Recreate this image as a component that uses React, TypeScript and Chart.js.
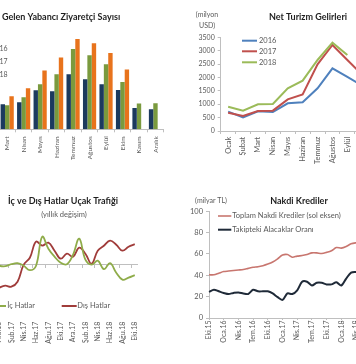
import React, { useEffect, useRef } from 'react';
import { Chart, registerables } from 'chart.js';
Chart.register(...registerables);

const FONT = 'Lato, "Open Sans", sans-serif';
const GRAY = '#595959';
const AXIS = '#bfbfbf';
const TITLE = '#1f1f1f';
const CLEAR = 'rgba(0,0,0,0)';

// ---- Top-left: Gelen Yabancı Ziyaretçi Sayısı (milyon kişi)
const visitorMonths = ['Ocak', 'Şubat', 'Mart', 'Nisan', 'Mayıs', 'Haziran', 'Temmuz', 'Ağustos', 'Eylül', 'Ekim', 'Kasım', 'Aralık'];
const visitors2016 = [1.13, 1.25, 1.56, 1.69, 2.44, 2.38, 3.44, 3.13, 2.81, 2.46, 1.33, 1.25];
const visitors2017 = [1.07, 1.12, 1.5, 2.0, 2.81, 3.44, 5.02, 4.63, 4.06, 2.96, 1.61, 1.63];
const visitors2018 = [1.26, 1.48, 2.06, 2.56, 3.67, 4.48, 5.64, 5.38, 4.77, 3.73, null, null];

// ---- Top-right: Net Turizm Gelirleri (milyon USD)
const tourismMonths = ['Ocak', 'Şubat', 'Mart', 'Nisan', 'Mayıs', 'Haziran', 'Temmuz', 'Ağustos', 'Eylül', 'Ekim', 'Kasım', 'Aralık'];
const tourism2016 = [722, 510, 735, 710, 1034, 1071, 1594, 2341, 2020, 1690, 1000, 900];
const tourism2017 = [685, 560, 747, 760, 1183, 1370, 2491, 3213, 2650, 2100, 1050, 950];
const tourism2018 = [909, 760, 996, 1009, 1594, 1880, 2653, 3300, 2840, null, null, null];
const tourismTicks = [0, 500, 1000, 1500, 2000, 2500, 3000, 3500];

// ---- Bottom-left: İç ve Dış Hatlar Uçak Trafiği (yıllık değişim)
const trafficMonths = ['Eki.16', 'Kas.16', 'Ara.16', 'Oca.17', 'Şub.17', 'Mar.17', 'Nis.17', 'May.17', 'Haz.17', 'Tem.17', 'Ağu.17', 'Eyl.17', 'Eki.17', 'Kas.17', 'Ara.17', 'Oca.18', 'Şub.18', 'Mar.18', 'Nis.18', 'May.18', 'Haz.18', 'Tem.18', 'Ağu.18', 'Eyl.18', 'Eki.18'];
const domesticTraffic = [3, 1, -1, -1.5, 0.5, 1.5, -1, -5.5, -1, 28, 16, 8, 2, 0.5, 10, 26, 5, 0, 4, -4.5, 1.5, -8, -15, -13, -10.5];
const intlTraffic = [-24, -26, -23, -21, -22, -17, 0, 7, 23, 19, 22, 14, 6, 11, 8, 17, 11, 1, 14, 19, 24, 20, 14, 18, 20.5];

// ---- Bottom-right: Nakdi Krediler
const creditMonths = ['Eki.15', 'Kas.15', 'Ara.15', 'Oca.16', 'Şub.16', 'Mar.16', 'Nis.16', 'May.16', 'Haz.16', 'Tem.16', 'Ağu.16', 'Eyl.16', 'Eki.16', 'Kas.16', 'Ara.16', 'Oca.17', 'Şub.17', 'Mar.17', 'Nis.17', 'May.17', 'Haz.17', 'Tem.17', 'Ağu.17', 'Eyl.17', 'Eki.17', 'Kas.17', 'Ara.17', 'Oca.18', 'Şub.18', 'Mar.18', 'Nis.18', 'May.18', 'Haz.18'];
const totalCredits = [40.5, 40.5, 42, 43.5, 44, 44.5, 45, 45.5, 46.5, 47.5, 48, 49, 50.5, 52.5, 55.5, 59, 59.5, 57, 58, 58.5, 59.5, 61, 61, 60.5, 61.5, 63, 66, 65.5, 67, 69.5, 70.5, 71, 73];
const nplRatio = [24.5, 26.5, 25, 23.5, 22.5, 23.5, 24, 23, 22.5, 26.5, 25, 25, 25, 23, 19.5, 17, 23, 22.5, 26, 34, 34, 30.5, 33, 33, 31.5, 31.5, 33.5, 30.5, 37, 42.5, 43, 42, 41];
const creditTicks = [0, 20, 40, 60, 80, 100];

type Item = {
  text: string; x: number; y: number; size: number; bold?: boolean; color?: string;
  align?: CanvasTextAlign; marker?: { color: string; len: number; gap: number; width: number };
};

function annot(id: string, items: Item[]) {
  return {
    id,
    afterDraw(chart: any) {
      const ctx: CanvasRenderingContext2D = chart.ctx;
      ctx.save();
      for (const it of items) {
        ctx.font = `${it.bold ? 'bold ' : ''}${it.size}px ${FONT}`;
        ctx.fillStyle = it.color || GRAY;
        ctx.textAlign = it.align || 'left';
        ctx.textBaseline = 'middle';
        ctx.fillText(it.text, it.x, it.y);
        if (it.marker) {
          const w = ctx.measureText(it.text).width;
          const left = it.align === 'right' ? it.x - w : it.align === 'center' ? it.x - w / 2 : it.x;
          ctx.beginPath();
          ctx.strokeStyle = it.marker.color;
          ctx.lineWidth = it.marker.width;
          ctx.moveTo(left - it.marker.gap - it.marker.len, it.y);
          ctx.lineTo(left - it.marker.gap, it.y);
          ctx.stroke();
        }
      }
      ctx.restore();
    },
  };
}

const base = {
  responsive: false,
  animation: false as const,
  devicePixelRatio: 1,
  events: [] as any[],
};
const noPlugins = { legend: { display: false }, tooltip: { enabled: false }, title: { display: false } };

function ChartBox({ left, top, width, height, make }: { left: number; top: number; width: number; height: number; make: () => any }) {
  const ref = useRef<HTMLCanvasElement>(null);
  useEffect(() => {
    const chart = new Chart(ref.current as HTMLCanvasElement, make());
    return () => chart.destroy();
  }, []);
  return (
    <div style={{ position: 'absolute', left, top, width, height }}>
      <canvas ref={ref} width={width} height={height} style={{ display: 'block', width, height }} />
    </div>
  );
}

const NAVY = '#1c3a5e';
const OLIVE = '#7a9a3e';
const ORANGE = '#e8731c';

function makeVisitors() {
  const bar = (label: string, data: (number | null)[], color: string) => ({
    label, data, backgroundColor: color, borderWidth: 0, categoryPercentage: 0.8, barPercentage: 1,
  });
  return {
    type: 'bar',
    data: {
      labels: visitorMonths,
      datasets: [bar('2016', visitors2016, NAVY), bar('2017', visitors2017, OLIVE), bar('2018', visitors2018, ORANGE)],
    },
    options: {
      ...base,
      layout: { padding: { left: 6, right: 6.3, top: 33.3, bottom: 0 } },
      plugins: noPlugins,
      scales: {
        x: {
          offset: true,
          grid: { offset: true, drawOnChartArea: false, drawTicks: true, tickLength: 3, color: AXIS },
          border: { color: AXIS },
          ticks: { autoSkip: false, minRotation: 90, maxRotation: 90, padding: 4, color: GRAY, font: { family: FONT, size: 6.5 } },
          afterFit: (s: any) => { s.height = 52.7; },
        },
        y: { display: false, min: 0, max: 6 },
      },
    },
    plugins: [
      annot('tl', [
        { text: 'Gelen Yabancı Ziyaretçi Sayısı', x: 42, y: 17, size: 9, bold: true, color: TITLE },
        { text: '2016', x: 47.5, y: 49, size: 7, align: 'right', marker: { color: NAVY, len: 15, gap: 2, width: 2 } },
        { text: '2017', x: 47.5, y: 62, size: 7, align: 'right', marker: { color: OLIVE, len: 15, gap: 2, width: 2 } },
        { text: '2018', x: 47.5, y: 75, size: 7, align: 'right', marker: { color: ORANGE, len: 15, gap: 2, width: 2 } },
      ]),
    ],
  };
}

const BLUE = '#4f81bd';
const RED = '#c0504d';
const GREEN = '#9bbb59';

function makeTourism() {
  const line = (label: string, data: (number | null)[], color: string, order: number) => ({
    label, data, borderColor: color, backgroundColor: color, borderWidth: 2, pointRadius: 0, tension: 0, order,
  });
  return {
    type: 'line',
    data: {
      labels: tourismMonths,
      datasets: [line('2016', tourism2016, BLUE, 2), line('2017', tourism2017, RED, 1), line('2018', tourism2018, GREEN, 0)],
    },
    options: {
      ...base,
      layout: { padding: { left: 0, right: 8.5, top: 37.3, bottom: 0 } },
      plugins: noPlugins,
      scales: {
        x: {
          offset: true,
          grid: { offset: true, drawOnChartArea: false, tickLength: 3, color: AXIS },
          border: { color: AXIS },
          ticks: { autoSkip: false, minRotation: 90, maxRotation: 90, padding: 2.7, color: GRAY, font: { family: FONT, size: 7.5 } },
          afterFit: (s: any) => { s.height = 51; },
        },
        y: {
          min: 0, max: 3500,
          afterBuildTicks: (s: any) => { s.ticks = tourismTicks.map((v) => ({ value: v })); },
          grid: { drawOnChartArea: false, tickLength: 3, color: AXIS },
          border: { color: AXIS },
          ticks: { padding: 3, color: GRAY, font: { family: FONT, size: 7 }, callback: (v: any) => String(v) },
          afterFit: (s: any) => { s.width = 42.7; },
        },
      },
    },
    plugins: [
      annot('tr', [
        { text: 'Net Turizm Gelirleri', x: 130, y: 17, size: 9, bold: true, color: TITLE, align: 'center' },
        { text: '(milyon', x: 29, y: 15, size: 7, align: 'center' },
        { text: 'USD)', x: 29, y: 26, size: 7, align: 'center' },
        { text: '2016', x: 81, y: 40.7, size: 7.5, marker: { color: BLUE, len: 15, gap: 2, width: 2 } },
        { text: '2017', x: 81, y: 51.3, size: 7.5, marker: { color: RED, len: 15, gap: 2, width: 2 } },
        { text: '2018', x: 81, y: 62.3, size: 7.5, marker: { color: GREEN, len: 15, gap: 2, width: 2 } },
      ]),
    ],
  };
}

const DOM = '#8fac4a';
const INTL = '#a03c3a';

function makeTraffic() {
  const line = (label: string, data: number[], color: string) => ({
    label, data, borderColor: color, backgroundColor: color, borderWidth: 1.8, pointRadius: 0, tension: 0.4, xAxisID: 'x', yAxisID: 'y',
  });
  return {
    type: 'line',
    data: {
      labels: trafficMonths,
      datasets: [line('İç Hatlar', domesticTraffic, DOM), line('Dış Hatlar', intlTraffic, INTL)],
    },
    options: {
      ...base,
      layout: { padding: { left: 2.9, right: 3.3, top: 42.7, bottom: 0 } },
      plugins: noPlugins,
      scales: {
        x: {
          type: 'category',
          position: { y: 0 },
          offset: true,
          grid: {
            offset: true, drawOnChartArea: false, tickLength: 3,
            color: (c: any) => (c.index % 2 === 0 ? AXIS : CLEAR),
            tickColor: (c: any) => (c.index % 2 === 0 ? AXIS : CLEAR),
          },
          border: { color: AXIS },
          ticks: { display: false, autoSkip: false },
        },
        x2: {
          type: 'category',
          axis: 'x',
          position: 'bottom',
          offset: true,
          grid: { display: false, drawTicks: false },
          border: { display: false },
          ticks: {
            autoSkip: false, minRotation: 90, maxRotation: 90, padding: 17, color: GRAY, font: { family: FONT, size: 7 },
            callback: (_v: any, i: number) => (i % 2 === 0 ? trafficMonths[i] : ''),
          },
          afterFit: (s: any) => { s.height = 59.3; },
        },
        y: { display: false, min: -40, max: 40 },
      },
    },
    plugins: [
      annot('bl', [
        { text: 'İç ve Dış Hatlar Uçak Trafiği', x: 93, y: 19, size: 9, bold: true, color: TITLE, align: 'center' },
        { text: '(yıllık değişim)', x: 94, y: 32.3, size: 7.5, align: 'center' },
        { text: 'İç Hatlar', x: 37.3, y: 124, size: 7.5, marker: { color: DOM, len: 14, gap: 1.3, width: 2 } },
        { text: 'Dış Hatlar', x: 107.3, y: 124, size: 7.5, marker: { color: INTL, len: 15, gap: 0.6, width: 2 } },
      ]),
    ],
  };
}

const SALMON = '#c8766f';
const DARK = '#1f2a38';

function makeCredits() {
  return {
    type: 'line',
    data: {
      labels: creditMonths,
      datasets: [
        { label: 'Toplam Nakdi Krediler (sol eksen)', data: totalCredits, borderColor: SALMON, borderWidth: 1.6, pointRadius: 0, tension: 0.3 },
        { label: 'Takipteki Alacaklar Oranı', data: nplRatio, borderColor: DARK, borderWidth: 2, pointRadius: 0, tension: 0.3 },
      ],
    },
    options: {
      ...base,
      layout: { padding: { left: 0, right: 12.2, top: 29.3, bottom: 0 } },
      plugins: noPlugins,
      scales: {
        x: {
          offset: false,
          grid: {
            offset: false, drawOnChartArea: false, tickLength: 2,
            color: (c: any) => (c.index % 3 === 0 ? AXIS : CLEAR),
            tickColor: (c: any) => (c.index % 3 === 0 ? AXIS : CLEAR),
          },
          border: { color: AXIS },
          ticks: {
            autoSkip: false, minRotation: 90, maxRotation: 90, padding: 0.5, color: GRAY, font: { family: FONT, size: 7 },
            callback: (_v: any, i: number) => (i % 3 === 0 ? creditMonths[i] : ''),
          },
          afterFit: (s: any) => { s.height = 46; },
        },
        y: {
          min: 0, max: 100,
          afterBuildTicks: (s: any) => { s.ticks = creditTicks.map((v) => ({ value: v })); },
          grid: { drawOnChartArea: false, tickLength: 3, color: AXIS },
          border: { color: AXIS },
          ticks: { padding: 3, color: GRAY, font: { family: FONT, size: 7.5 }, callback: (v: any) => String(v) },
          afterFit: (s: any) => { s.width = 31; },
        },
      },
    },
    plugins: [
      annot('br', [
        { text: 'Nakdi Krediler', x: 121, y: 19.3, size: 9, bold: true, color: TITLE, align: 'center' },
        { text: '(milyar TL)', x: 33, y: 18.3, size: 7, align: 'center' },
        { text: 'Toplam Nakdi Krediler (sol eksen)', x: 54.3, y: 34, size: 7.5, marker: { color: SALMON, len: 13.3, gap: 1, width: 1.6 } },
        { text: 'Takipteki Alacaklar Oranı', x: 54.3, y: 47.7, size: 7.5, marker: { color: DARK, len: 13.3, gap: 1, width: 2 } },
      ]),
    ],
  };
}

export default function App() {
  return (
    <div style={{ position: 'fixed', left: 0, top: 0, width: 356, height: 364, overflow: 'hidden', background: '#ffffff' }}>
      <ChartBox left={-40} top={0} width={210} height={182} make={makeVisitors} />
      <ChartBox left={178} top={0} width={230} height={182} make={makeTourism} />
      <ChartBox left={-30} top={182} width={190} height={182} make={makeTraffic} />
      <ChartBox left={178} top={182} width={200} height={182} make={makeCredits} />
    </div>
  );
}
